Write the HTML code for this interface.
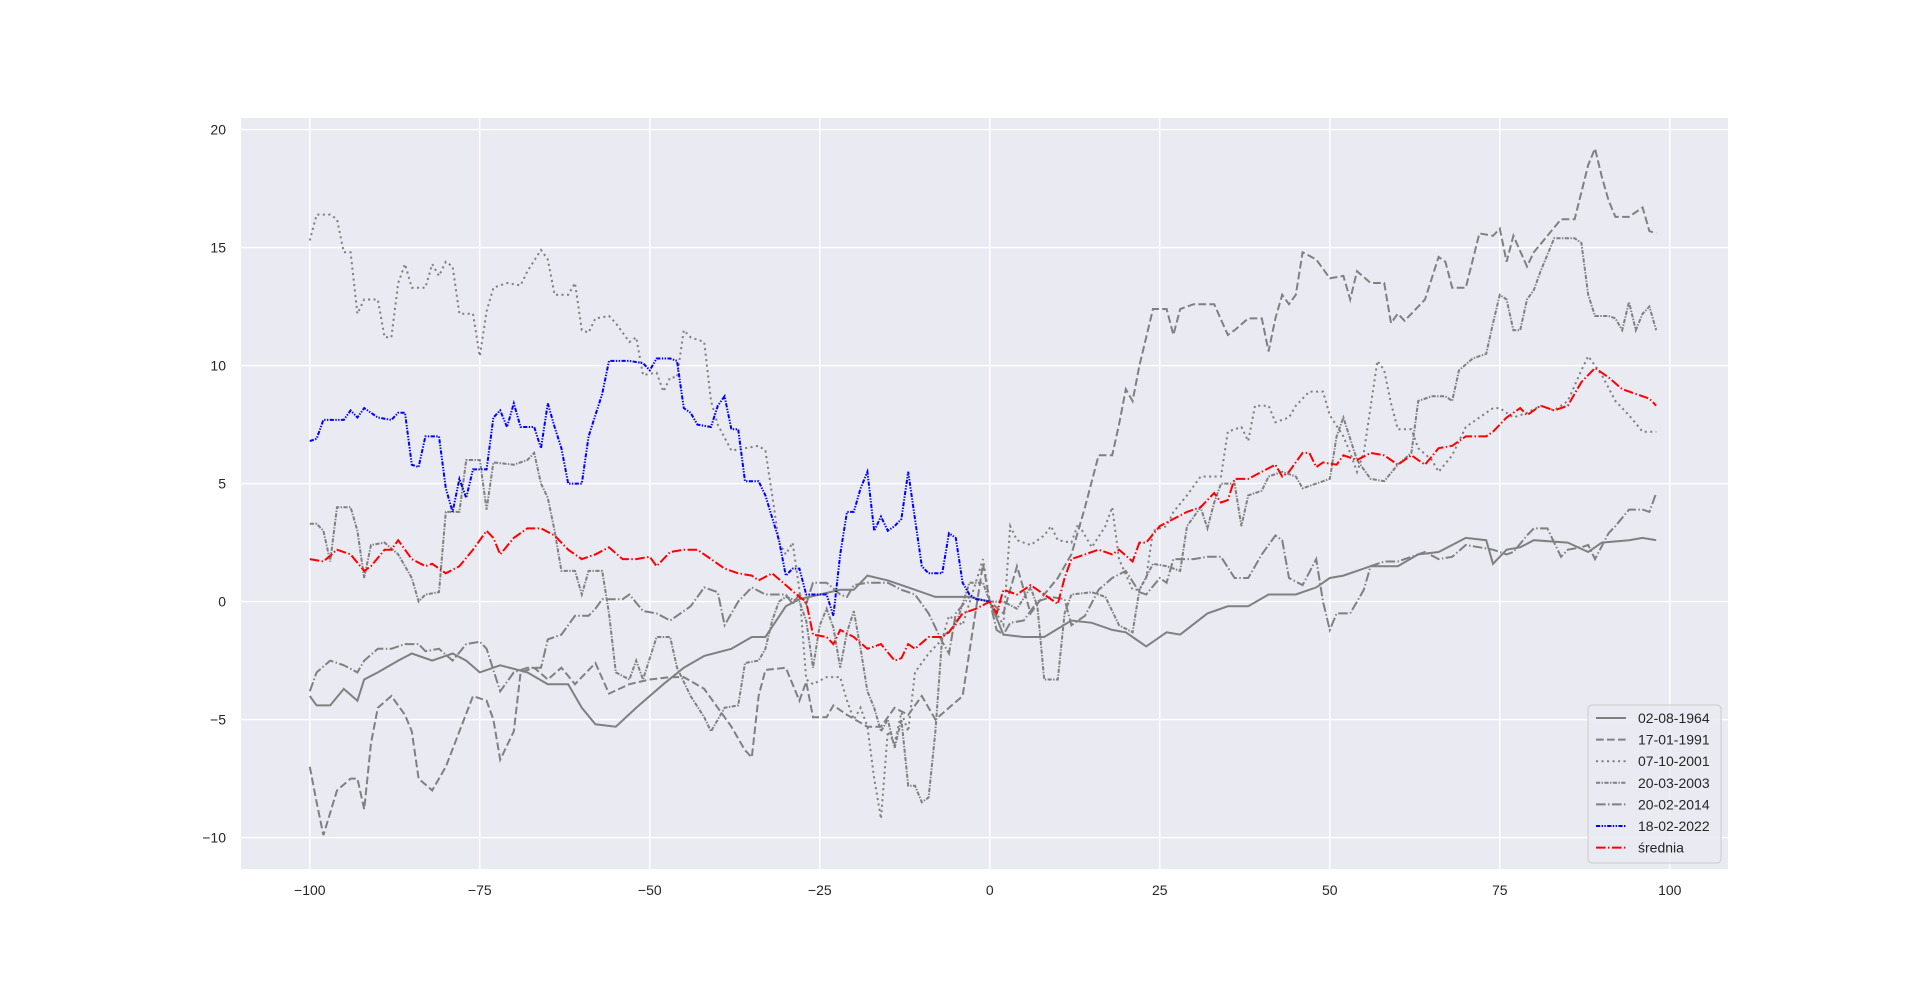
<!DOCTYPE html>
<html><head><meta charset="utf-8"><style>
body{margin:0;background:#fff;}
svg text{font-family:"Liberation Sans",sans-serif;fill:#262626;}
</style></head><body>
<svg id="s" width="1920" height="977" xmlns="http://www.w3.org/2000/svg">
<rect x="241" y="118" width="1487" height="751" fill="#EAEAF2"/>
<g id="grid" stroke="#fff" stroke-width="1.4"></g>
<g id="ticks" font-size="14"></g>
<defs><clipPath id="c"><rect x="241" y="118" width="1487" height="751"/></clipPath></defs>
<g id="lines" clip-path="url(#c)" fill="none" stroke-width="2"></g>
<g id="leg"></g>
</svg>
<script>
const X=x=>309.8+(x+100)*6.8, Y=y=>837.6-(y+10)*23.6;
const NS="http://www.w3.org/2000/svg";
function el(p,t,a,txt){const e=document.createElementNS(NS,t);for(const k in a)e.setAttribute(k,a[k]);if(txt!==undefined)e.textContent=txt;document.getElementById(p).appendChild(e);return e;}
for(let v=-100;v<=100;v+=25){el('grid','line',{x1:X(v),x2:X(v),y1:118,y2:869});el('ticks','text',{x:X(v),y:895,'text-anchor':'middle'},v<0?'\u2212'+(-v):v);}
for(let v=-10;v<=20;v+=5){el('grid','line',{x1:241,x2:1728,y1:Y(v),y2:Y(v)});el('ticks','text',{x:226,y:Y(v)+5,'text-anchor':'end'},v<0?'\u2212'+(-v):v);}
const S=[
["02-08-1964","grey","",[-100,-4,-99,-4.4,-97,-4.4,-95,-3.7,-93,-4.2,-92,-3.3,-90,-3,-87,-2.5,-85,-2.2,-82,-2.5,-79,-2.2,-77,-2.5,-75,-3,-72,-2.7,-68,-3,-65,-3.5,-62,-3.5,-60,-4.5,-58,-5.2,-55,-5.3,-52,-4.5,-48,-3.5,-45,-2.8,-42,-2.3,-38,-2,-35,-1.5,-33,-1.5,-30,-0.2,-28,0.1,-25,0.3,-22,0.5,-20,0.5,-18,1.1,-15,0.9,-12,0.6,-8,0.2,-3,0.2,0,0,2,-1.4,5,-1.5,8,-1.5,12,-0.8,15,-0.9,18,-1.2,20,-1.3,23,-1.9,26,-1.3,28,-1.4,32,-0.5,35,-0.2,38,-0.2,41,0.3,45,0.3,48,0.6,50,1,52,1.1,56,1.5,60,1.5,63,2,66,2.1,70,2.7,73,2.6,74,1.6,76,2.2,78,2.3,80,2.6,85,2.5,88,2.1,90,2.5,94,2.6,96,2.7,98,2.6]],
["17-01-1991","grey","7.7,3.3",[-100,-7,-99,-8.5,-98,-9.9,-96,-8,-94,-7.5,-93,-7.5,-92,-8.8,-91,-6,-90,-4.5,-88,-4,-86,-4.8,-85,-5.5,-84,-7.5,-82,-8,-80,-7,-78,-5.5,-76,-4,-74,-4.2,-73,-5,-72,-6.7,-70,-5.5,-69,-3,-67,-2.8,-65,-3.3,-63,-2.8,-61,-3.5,-58,-2.6,-56,-3.9,-53,-3.5,-50,-3.3,-47,-3.2,-45,-3.2,-42,-3.7,-40,-4.5,-38,-5.3,-36,-6.3,-35,-6.6,-34,-4,-33,-2.9,-30,-2.8,-28,-4.2,-27,-3.4,-26,-4.9,-24,-4.9,-23,-4.4,-21,-4.8,-18,-5.3,-16,-5.3,-14,-4.5,-12,-4.8,-10,-4,-8,-5,-6,-4.5,-4,-4,-1,1.6,0,0,2,-0.5,4,1.5,6,-0.5,8,0.3,10,1,12,2,14,4,16,6.2,18,6.2,19,7.5,20,9,21,8.5,22,10,24,12.4,26,12.4,27,11.3,28,12.4,30,12.6,33,12.6,35,11.3,36,11.5,38,12,40,12,41,10.6,42,12,43,13,44,12.6,45,13,46,14.8,48,14.5,50,13.7,52,13.8,53,12.8,54,14,56,13.5,58,13.5,59,11.8,60,12.2,61,11.9,64,12.8,66,14.6,67,14.4,68,13.3,70,13.3,72,15.6,74,15.5,75,15.8,76,14.4,77,15.5,79,14.2,80,14.8,82,15.5,84,16.2,86,16.2,88,18.5,89,19.2,90,18,91,17,92,16.3,94,16.3,96,16.7,97,15.7,98,15.6]],
["07-10-2001","grey","2.1,3.4",[-100,15.3,-99,16.4,-97,16.4,-96,16.2,-95,14.8,-94,14.8,-93,12.2,-92,12.8,-90,12.8,-89,11.2,-88,11.2,-87,13.5,-86,14.3,-85,13.3,-83,13.3,-82,14.3,-81,13.8,-80,14.4,-79,14.2,-78,12.2,-76,12.2,-75,10.4,-74,12.3,-73,13.3,-71,13.5,-69,13.4,-68,14,-66,14.9,-65,14.5,-64,13,-62,13,-61,13.5,-60,11.5,-59,11.4,-58,12,-56,12.1,-55,11.8,-53,11,-52,11.2,-51,9.6,-49,9.7,-48,8.9,-47,9.5,-46,9.5,-45,11.5,-44,11.2,-42,11,-41,8.5,-40,7.5,-38,6.4,-36,6.5,-34,6.6,-33,6.4,-32,4.5,-31,2.5,-30,2,-29,2.5,-28,0.5,-27,-3.3,-26,-3.5,-24,-3.2,-22,-3.2,-21,-4.2,-20,-5,-19,-4.5,-18,-5.3,-17,-7.5,-16,-9.2,-15,-5.5,-14,-6,-13,-4.7,-12,-5.5,-11,-3,-9,-2.2,-7,-1.6,-6,-0.6,-4,-1,-1,1.8,0,0,2,-1,3,3.2,4,2.6,6,2.4,8,2.8,9,3.2,10,2.6,12,2.5,13,3.3,15,2.3,17,3.2,18,4,19,1.8,21,0.5,22,0.5,23,1,24,3,26,3.2,27,3.8,29,4.5,31,5.3,34,5.3,35,7.2,37,7.4,38,6.8,39,8.3,41,8.3,42,7.6,44,7.8,45,8.3,47,8.9,49,8.9,50,7.9,52,7,53,6.3,54,5.5,55,6.3,57,10.2,58,9.8,59,8.4,60,7.3,62,7.3,63,6.5,65,6,66,5.5,68,6.2,70,7.4,72,7.8,74,8.2,75,8.2,77,7.8,79,8,81,8.3,83,8.1,85,8.5,87,9.8,88,10.4,89,10,90,9.6,92,8.5,94,7.9,96,7.2,98,7.2]],
["20-03-2003","grey","4.2,1.4,1.4,1.4",[-100,3.3,-99,3.3,-98,3,-97,1.7,-96,4,-94,4,-93,3,-92,1,-91,2.4,-89,2.5,-87,2,-86,1.5,-85,1,-84,0,-83,0.3,-81,0.4,-80,3.8,-78,3.8,-77,6,-75,6,-74,3.9,-73,5.9,-70,5.8,-68,6,-67,6.3,-66,5,-65,4.4,-64,3,-63,1.3,-61,1.3,-60,0.3,-59,1.3,-57,1.3,-56,-0.5,-55,-3,-53,-3.3,-52,-2.5,-51,-3.3,-49,-1.5,-47,-1.5,-46,-2.8,-44,-4,-42,-4.9,-41,-5.5,-39,-4.5,-37,-4.4,-36,-2.6,-34,-2.5,-33,-2,-32,-0.8,-31,0,-30,0.2,-28,0,-27,-0.8,-26,-2.8,-25,-1,-24,-0.3,-23,-1.1,-22,-2.8,-21,-1.3,-20,-0.4,-19,-2,-18,-3.8,-17,-4.5,-16,-5.5,-15,-5,-14,-6.2,-13,-5,-12,-7.8,-11,-7.8,-10,-8.5,-9,-8.3,-8,-5.5,-7,-1.5,-5,-1,-3,0.8,-1,0.8,0,0,2,0,4,-0.3,6,0.6,7,-0.2,8,-3.3,10,-3.3,11,-0.5,12,0.3,15,0.4,17,0.2,19,-1,21,-1.3,22,0.5,24,1.6,26,1.5,28,1.3,29,3.2,31,4,32,3.1,33,4.2,34,5,36,5,37,3.2,38,4.5,40,4.7,41,5.3,43,5.5,45,5.3,46,4.8,48,5,50,5.2,51,7,52,7.8,54,6,56,5.2,58,5.1,60,5.8,62,6.3,63,8.5,65,8.7,67,8.7,68,8.5,69,9.8,71,10.3,73,10.5,74,11.8,75,13,76,12.8,77,11.5,78,11.5,79,12.8,80,13.2,81,14,83,15.4,86,15.4,87,15.2,88,13,89,12.1,91,12.1,92,12,93,11.5,94,12.7,95,11.5,96,12.2,97,12.5,98,11.5]],
["20-02-2014","grey","9.6,2.4,1.5,2.4",[-100,-3.8,-99,-3,-97,-2.5,-95,-2.7,-93,-3,-92,-2.5,-90,-2,-88,-2,-86,-1.8,-84,-1.8,-83,-2.1,-81,-2,-79,-2.5,-77,-1.8,-75,-1.7,-74,-2,-72,-3.8,-70,-3,-68,-2.8,-66,-2.8,-65,-1.6,-63,-1.4,-61,-0.6,-59,-0.6,-58,-0.3,-57,0.1,-54,0.1,-53,0.3,-51,-0.4,-49,-0.5,-47,-0.8,-46,-0.6,-44,-0.2,-43,0.2,-42,0.6,-40,0.4,-39,-1,-37,0,-35,0.6,-33,0.3,-30,0.3,-29,-0.1,-28,0.3,-27,-0.1,-26,0.8,-24,0.8,-22,0.3,-21,0.2,-20,0.7,-18,0.8,-15,0.8,-13,0.5,-11,0.3,-9,-0.5,-7,-1.7,-6,-2.2,-5,-0.5,-3,0.2,0,0,1,-1.2,2,-1.4,3,-0.9,5,-0.8,7,0,9,0.2,11,0.1,12,-1,14,-0.6,16,0.5,18,1,20,1.3,22,0.4,23,0.3,25,1,26,0.8,27,1.8,30,1.8,32,1.9,34,1.9,36,1,38,1,40,2,42,2.8,43,2.6,44,1,46,0.7,48,1.8,49,0,50,-1.2,51,-0.5,53,-0.5,55,0.5,56,1.5,58,1.7,60,1.7,62,1.9,64,2.1,66,1.8,68,1.9,70,2.4,72,2.3,74,2.2,76,2,77,2.1,79,2.8,80,3.1,82,3.1,83,2.5,84,1.9,85,2.2,87,2.3,88,2.4,89,1.8,91,2.9,92,3.2,94,3.9,96,3.9,97,3.8,98,4.6]],
["18-02-2022","#0000ff","4.2,1.4,1.4,1.4,1.4,1.4",[-100,6.8,-99,6.9,-98,7.7,-95,7.7,-94,8.1,-93,7.8,-92,8.2,-90,7.8,-88,7.7,-87,8,-86,8,-85,5.8,-84,5.7,-83,7,-81,7,-80,4.8,-79,3.8,-78,5.2,-77,4.4,-76,5.6,-74,5.6,-73,7.8,-72,8.1,-71,7.4,-70,8.4,-69,7.4,-67,7.4,-66,6.5,-65,8.4,-64,7.4,-63,6.5,-62,5,-60,5,-59,7,-57,8.8,-56,10.2,-53,10.2,-51,10.1,-50,9.8,-49,10.3,-47,10.3,-46,10.2,-45,8.2,-44,8,-43,7.5,-41,7.4,-40,8.3,-39,8.7,-38,7.3,-37,7.3,-36,5.1,-34,5.1,-33,4.5,-31,2.6,-30,1.1,-29,1.4,-28,1.4,-27,0.3,-24,0.3,-23,-0.6,-22,2,-21,3.8,-20,3.8,-19,4.8,-18,5.5,-17,3,-16,3.6,-15,3,-14,3.2,-13,3.5,-12,5.5,-11,3.5,-10,1.5,-9,1.2,-7,1.2,-6,2.9,-5,2.7,-4,0.8,-3,0.3,-2,0.1,0,0]],
["\u015brednia","#ff0000","9.6,2.4,1.5,2.4",[-100,1.8,-98,1.7,-96,2.2,-94,2,-92,1.3,-91,1.5,-89,2.2,-88,2.2,-87,2.6,-86,2.2,-85,1.8,-83,1.5,-82,1.6,-80,1.2,-78,1.5,-76,2.2,-74,3,-73,2.7,-72,2,-70,2.7,-68,3.1,-66,3.1,-64,2.8,-62,2.2,-60,1.8,-58,2,-56,2.3,-54,1.8,-52,1.8,-50,1.9,-49,1.5,-47,2.1,-45,2.2,-43,2.2,-41,1.8,-39,1.4,-37,1.2,-35,1.1,-34,0.9,-32,1.2,-30,0.7,-28,0.2,-27,0,-26,-1.4,-24,-1.5,-23,-1.8,-22,-1.2,-20,-1.5,-18,-2,-16,-1.8,-14,-2.5,-13,-2.4,-12,-1.8,-11,-2,-9,-1.5,-7,-1.5,-6,-1.3,-4,-0.5,-2,-0.3,0,0,1,-0.5,2,0.5,4,0.3,6,0.7,8,0.3,10,-0.1,11,1,12,1.8,14,2,16,2.2,18,2,19,2.2,21,1.7,22,2.5,23,2.5,25,3.2,27,3.5,29,3.8,31,4,33,4.6,34,4.2,35,4.3,36,5.2,38,5.2,40,5.5,42,5.8,43,5.3,44,5.5,46,6.3,47,6.3,48,5.7,49,5.9,51,5.8,52,6.2,54,6,56,6.3,58,6.2,60,5.8,62,6.2,64,5.8,66,6.5,68,6.6,70,7,73,7,74,7.2,76,7.8,78,8.2,79,7.9,81,8.3,83,8.1,85,8.3,87,9.3,89,9.9,91,9.5,93,9,95,8.8,97,8.6,98,8.3]]
];
const lx=1588,ly=705;
el('leg','rect',{x:lx,y:ly,width:133,height:158,rx:4,fill:'#EAEAF2',stroke:'#ccc','fill-opacity':0.8});
S.forEach((s,i)=>{
  const d=s[3];let p='';for(let k=0;k<d.length;k+=2)p+=(k?'L':'M')+X(d[k]).toFixed(1)+','+Y(d[k+1]).toFixed(1);
  const a={d:p,stroke:s[1]};if(s[2])a['stroke-dasharray']=s[2];el('lines','path',a);
  const yy=ly+13+i*21.6;
  const b={x1:lx+8,x2:lx+38,y1:yy,y2:yy,stroke:s[1],'stroke-width':2};if(s[2])b['stroke-dasharray']=s[2];el('leg','line',b);
  el('leg','text',{x:lx+50,y:yy+5,'font-size':'14'},s[0]);
});
</script>
</body></html>
